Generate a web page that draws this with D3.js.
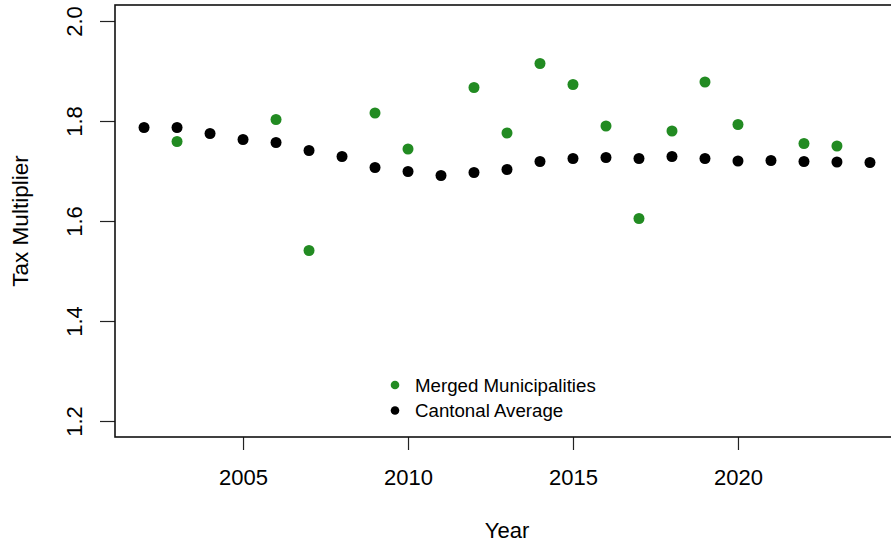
<!DOCTYPE html>
<html>
<head>
<meta charset="utf-8">
<script src="https://cdn.jsdelivr.net/npm/d3@7"></script>
<style>
  body { margin: 0; background: #fff; }
  text { font-family: "Liberation Sans", Arial, Helvetica, sans-serif; fill: #000; }
</style>
</head>
<body>
<div id="chart"></div>
<script>
// Set up conventions
let width = 891;
let height = 544;

// data
let years = [2002, 2003, 2004, 2005, 2006, 2007, 2008, 2009, 2010, 2011, 2012, 2013,
             2014, 2015, 2016, 2017, 2018, 2019, 2020, 2021, 2022, 2023, 2024];
let cantonal = [1.787, 1.787, 1.775, 1.763, 1.757, 1.741, 1.729, 1.707, 1.699, 1.691, 1.697, 1.703,
                1.719, 1.725, 1.727, 1.725, 1.729, 1.725, 1.720, 1.721, 1.719, 1.718, 1.717];
let mergedYears = [2003, 2006, 2007, 2009, 2010, 2012, 2013, 2014, 2015, 2016, 2017, 2018, 2019, 2020, 2022, 2023];
let merged = [1.759, 1.803, 1.541, 1.816, 1.744, 1.867, 1.776, 1.915, 1.873, 1.790, 1.605, 1.780, 1.878, 1.793, 1.755, 1.750];
let xTicks = [2005, 2010, 2015, 2020];
let yTicks = [1.2, 1.4, 1.6, 1.8, 2.0];
let legendLabels = ["Merged Municipalities", "Cantonal Average"];
let legendColors = ["#228B22", "#000000"];

let svg = d3.select("#chart")
    .append("svg")
    .attr("width", width)
    .attr("height", height)

// R style: 4% padding around the data range
let xScale = d3.scaleLinear()
    .domain([2001.12, 2024.88])
    .range([115, 899])

let yScale = d3.scaleLinear()
    .domain([1.168, 2.032])
    .range([437, 5])

// x axis
let xAxis = d3.axisBottom(xScale).tickValues(xTicks).tickFormat(d3.format("d")).tickSize(13).tickPadding(19)
let gx = svg.append("g")
    .attr("transform", "translate(0," + yScale.range()[0] + ")")
    .call(xAxis)
gx.select(".domain").remove()
gx.selectAll("line").attr("stroke", "#222").attr("stroke-width", 1.2)
gx.selectAll("text").style("font-size", "22px").attr("fill", "#000")

// y axis, rotated labels like base R
let yAxis = d3.axisLeft(yScale).tickValues(yTicks).tickFormat(d3.format(".1f")).tickSize(15)
let gy = svg.append("g")
    .attr("transform", "translate(" + xScale.range()[0] + ",0)")
    .call(yAxis)
gy.select(".domain").remove()
gy.selectAll("line").attr("stroke", "#222").attr("stroke-width", 1.2)
gy.selectAll("text")
    .style("font-size", "22px")
    .attr("fill", "#000")
    .attr("x", 0).attr("dy", null).attr("y", 0)
    .attr("text-anchor", "middle")
    .attr("transform", "translate(-33,0) rotate(-90)")

// plot box
svg.append("rect")
    .attr("x", xScale.range()[0])
    .attr("y", yScale.range()[1])
    .attr("width", xScale.range()[1] - xScale.range()[0])
    .attr("height", yScale.range()[0] - yScale.range()[1])
    .attr("fill", "none")
    .attr("stroke", "#111")
    .attr("stroke-width", 1.6)

// cantonal average points
svg.selectAll(".cant")
    .data(years)
    .enter()
    .append("circle")
    .attr("class", "cant")
    .attr("cx", d => xScale(d))
    .attr("cy", (d, i) => yScale(cantonal[i]))
    .attr("r", 5.5)
    .attr("fill", legendColors[1])

// merged municipalities points
svg.selectAll(".merged")
    .data(mergedYears)
    .enter()
    .append("circle")
    .attr("class", "merged")
    .attr("cx", d => xScale(d))
    .attr("cy", (d, i) => yScale(merged[i]))
    .attr("r", 5.5)
    .attr("fill", legendColors[0])

// axis titles
svg.append("text")
    .attr("x", 507)
    .attr("y", 538)
    .attr("text-anchor", "middle")
    .style("font-size", "22px")
    .text("Year")

svg.append("text")
    .attr("transform", "translate(28,221) rotate(-90)")
    .attr("text-anchor", "middle")
    .style("font-size", "22.5px")
    .text("Tax Multiplier")

// legend
let legend = svg.selectAll(".legend")
    .data(legendLabels)
    .enter()
    .append("g")
    .attr("class", "legend")
    .attr("transform", (d, i) => "translate(395," + (385 + i * 25.5) + ")")

legend.append("circle")
    .attr("r", 4.3)
    .attr("fill", (d, i) => legendColors[i])

legend.append("text")
    .attr("x", 20)
    .attr("y", 6.5)
    .style("font-size", "18.7px")
    .text(d => d)
</script>
</body>
</html>
